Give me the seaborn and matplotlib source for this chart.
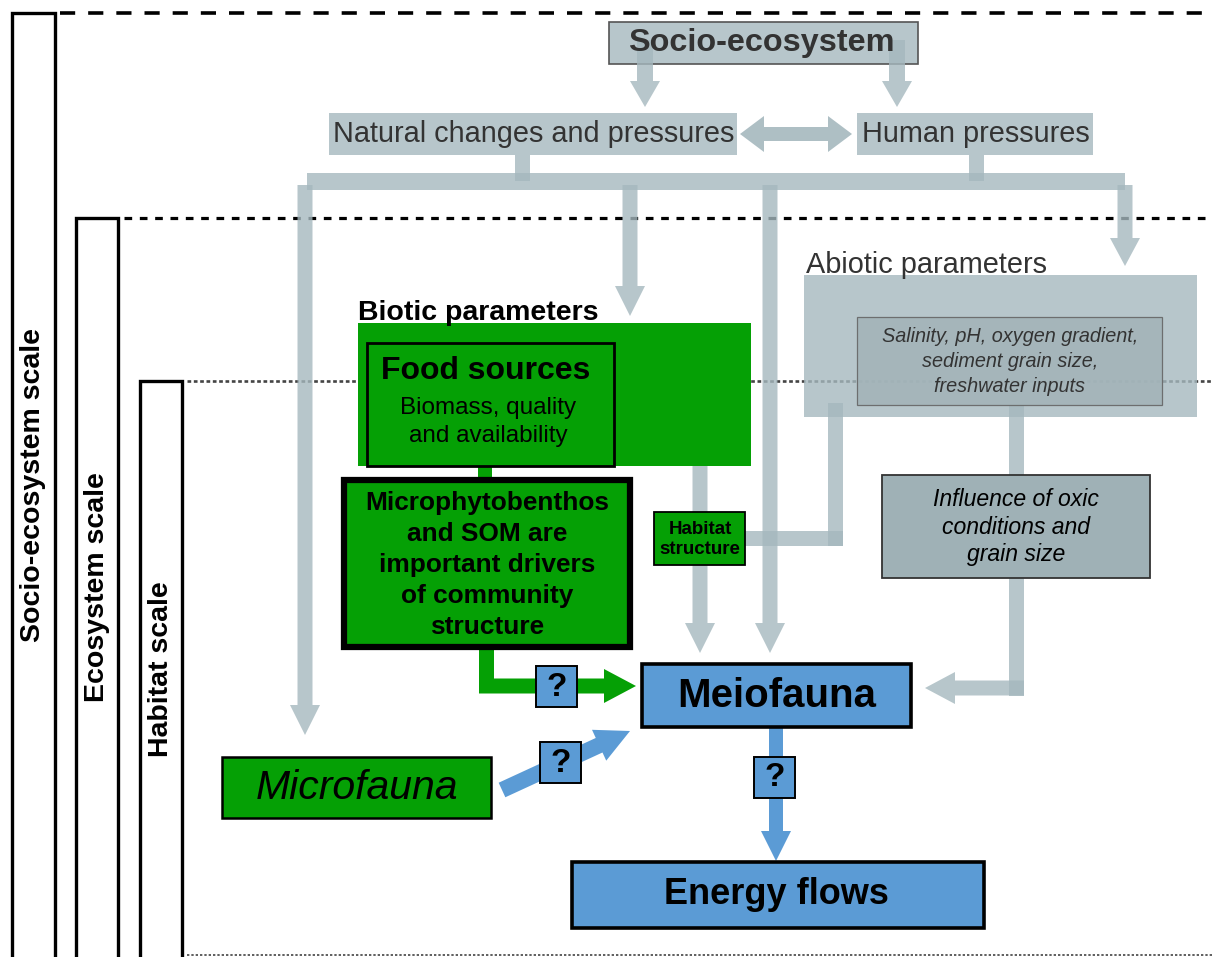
import numpy as np
import seaborn as sns
import matplotlib.pyplot as plt
from matplotlib.patches import Rectangle, FancyArrow

sns.set_style('white')
plt.rcParams['font.family'] = ['Liberation Sans', 'DejaVu Sans']
plt.rcParams['text.color'] = 'black'

# texts of the diagram
scale_labels = ['Socio-ecosystem scale', 'Ecosystem scale', 'Habitat scale']
top_label = 'Socio-ecosystem'
pressure_labels = ['Natural changes and pressures', 'Human pressures']
abiotic_title = 'Abiotic parameters'
abiotic_items = ['Salinity, pH, oxygen gradient,', 'sediment grain size,', 'freshwater inputs']
influence_lines = ['Influence of oxic', 'conditions and', 'grain size']
biotic_title = 'Biotic parameters'
food_title = 'Food sources'
food_lines = ['Biomass, quality', 'and availability']
mpb_lines = ['Microphytobenthos', 'and SOM are', 'important drivers', 'of community', 'structure']
habitat_lines = ['Habitat', 'structure']
meio_label = 'Meiofauna'
micro_label = 'Microfauna'
energy_label = 'Energy flows'
unknown = '?'

GREY = '#a5b8be'
GREEN = '#05a005'
BLUE = '#5b9bd5'

fig = plt.figure(figsize=(12.12, 9.57), dpi=100)
ax = fig.add_axes([0, 0, 1, 1])
ax.set_xlim(0, 1212)
ax.set_ylim(957, 0)
ax.axis('off')


def box(x0, y0, x1, y1, fc, ec='none', lw=0, z=3, alpha=1.0):
    ax.add_patch(Rectangle((x0, y0), x1 - x0, y1 - y0, facecolor=fc, edgecolor=ec,
                           linewidth=lw, zorder=z, alpha=alpha))


def arrow(x0, y0, x1, y1, w=14, hw=30, hl=26, color=GREY, alpha=0.8, z=2):
    ax.add_patch(FancyArrow(x0, y0, x1 - x0, y1 - y0, width=w, head_width=hw, head_length=hl,
                            length_includes_head=True, color=color, alpha=alpha, lw=0, zorder=z))


def bar(x0, y0, x1, y1, color=GREY, alpha=0.8, z=2):
    box(x0, y0, x1, y1, color, z=z, alpha=alpha)


# scale bars and the lines that mark them
bars = [(12, 55, 13), (76, 118, 218), (140, 182, 381)]
for (x0, x1, y0), lab in zip(bars, scale_labels):
    box(x0, y0, x1, 1000, 'white', 'black', 2.4, z=1)
    ax.text((x0 + x1) / 2, (y0 + 957) / 2, lab, rotation=90,
            ha='center', va='center', fontsize=20.5, fontweight='bold', zorder=5)
ax.plot([60, 1212], [13, 13], color='black', lw=2.6, ls=(0, (4.2, 3.6)), zorder=1)
ax.plot([124, 1212], [218, 218], color='black', lw=2.3, ls=(0, (2.4, 2.4)), zorder=1)
ax.plot([187, 1212], [381, 381], color='#444444', lw=1.9, ls=(0, (1.4, 1.0)), zorder=1)
ax.plot([187, 1212], [955, 955], color='#444444', lw=1.2, ls=(0, (1.4, 1.2)), zorder=1)

# socio-ecosystem and pressures
box(609, 22, 918, 64, '#b7c6cb', '#555555', 1.2, z=3)
ax.text(761, 43, top_label, ha='center', va='center', fontsize=23.3, fontweight='bold',
        color='#333333', zorder=6)
arrow(645, 40, 645, 107, w=16, hw=30, hl=26, z=4)
arrow(897, 40, 897, 107, w=16, hw=30, hl=26, z=4)
box(329, 113, 737, 155, '#b7c6cb', z=3)
box(857, 113, 1093, 155, '#b7c6cb', z=3)
ax.text(534, 134, pressure_labels[0], ha='center', va='center', fontsize=20.8, color='#333333', zorder=6)
ax.text(976, 134, pressure_labels[1], ha='center', va='center', fontsize=20.8, color='#333333', zorder=6)
arrow(796, 134, 740, 134, w=14, hw=36, hl=24, alpha=0.9)
arrow(796, 134, 852, 134, w=14, hw=36, hl=24, alpha=0.9)

# distribution bar and downward arrows
bar(515, 152, 530, 181)
bar(969, 152, 984, 181)
bar(307, 173, 1125, 190)
arrow(305, 185, 305, 735, w=15, hw=30, hl=30)
arrow(630, 185, 630, 316, w=15, hw=30, hl=30)
arrow(770, 185, 770, 653, w=15, hw=30, hl=30)
arrow(1125, 185, 1125, 266, w=15, hw=30, hl=28)

# abiotic parameters
ax.text(806, 265, abiotic_title, ha='left', va='center', fontsize=20.8, color='#333333', zorder=6)
box(804, 275, 1197, 417, '#a5b8be', z=3, alpha=0.8)
box(857, 317, 1162, 405, '#a3b4b9', '#666666', 0.9, z=4, alpha=0.9)
for i, t in enumerate(abiotic_items):
    ax.text(1010, 337 + i * 24.5, t, ha='center', va='center', fontsize=14.3,
            style='italic', color='#333333', zorder=6)
bar(828, 403, 843, 546)
bar(745, 531, 843, 546)
bar(1009, 405, 1024, 478)
bar(1009, 578, 1024, 696)
arrow(1024, 688, 925, 688, w=15, hw=32, hl=30)
box(882, 475, 1150, 578, '#9fb1b6', '#333333', 1.3, z=4)
for i, t in enumerate(influence_lines):
    ax.text(1016, 500 + i * 27.5, t, ha='center', va='center', fontsize=16.6,
            style='italic', zorder=6)

# biotic parameters
ax.text(358, 313, biotic_title, ha='left', va='center', fontsize=20.5, fontweight='bold', zorder=6)
box(358, 323, 751, 466, GREEN, z=3)
arrow(700, 466, 700, 653, w=15, hw=30, hl=30)
box(367, 343, 614, 466, GREEN, 'black', 2.0, z=4)
ax.text(486, 371, food_title, ha='center', va='center', fontsize=23, fontweight='bold', zorder=6)
for i, t in enumerate(food_lines):
    ax.text(488, 408 + i * 28, t, ha='center', va='center', fontsize=17.5, zorder=6)
bar(478, 466, 492, 480, color=GREEN, alpha=1, z=3)
box(344, 480, 630, 647, GREEN, 'black', 4.5, z=4)
for i, t in enumerate(mpb_lines):
    ax.text(487, 503 + i * 31, t, ha='center', va='center', fontsize=18.9, fontweight='bold', zorder=6)
box(654, 512, 745, 565, GREEN, 'black', 1.3, z=4)
for i, t in enumerate(habitat_lines):
    ax.text(700, 529 + i * 21, t, ha='center', va='center', fontsize=13.5, fontweight='bold', zorder=6)

# green path to meiofauna
bar(479, 647, 494, 693, color=GREEN, alpha=1, z=3)
arrow(479, 686, 636, 686, w=15, hw=34, hl=32, color=GREEN, alpha=1, z=3)

# meiofauna, microfauna and energy flows
box(642, 664, 911, 727, BLUE, 'black', 2.6, z=4)
ax.text(777, 696, meio_label, ha='center', va='center', fontsize=29, fontweight='bold', zorder=6)
box(222, 757, 491, 818, GREEN, 'black', 1.8, z=4)
ax.text(357, 788, micro_label, ha='center', va='center', fontsize=29.5, style='italic', zorder=6)
arrow(502, 790, 630, 731, w=16, hw=34, hl=34, color=BLUE, alpha=1, z=3)
arrow(776, 727, 776, 861, w=14, hw=30, hl=30, color=BLUE, alpha=1, z=3)
box(572, 862, 984, 928, BLUE, 'black', 2.6, z=4)
ax.text(776, 895, energy_label, ha='center', va='center', fontsize=26, fontweight='bold', zorder=6)

# question marks
for x0, y0 in [(536, 666), (540, 742), (754, 757)]:
    box(x0, y0, x0 + 41, y0 + 41, BLUE, 'black', 1.4, z=5)
    ax.text(x0 + 20.5, y0 + 21, unknown, ha='center', va='center', fontsize=24,
            fontweight='bold', zorder=6)

fig.savefig('out.png', dpi=100)
